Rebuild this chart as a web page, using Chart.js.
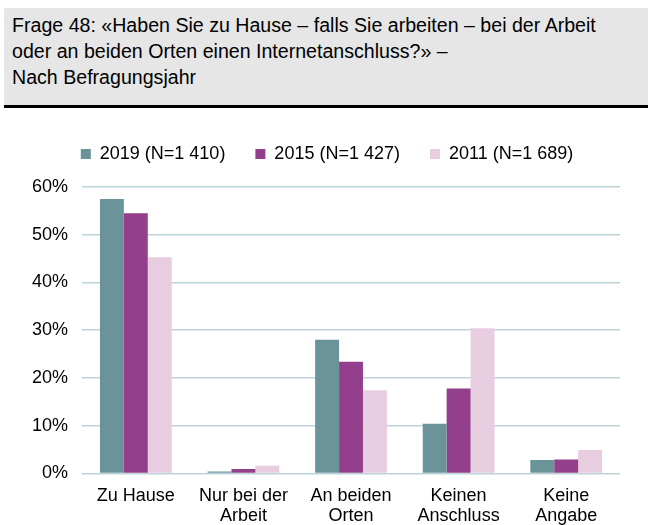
<!DOCTYPE html>
<html lang="de">
<head>
    <meta charset="UTF-8">
    <title>Frage 48</title>
    <script src="https://cdn.jsdelivr.net/npm/chart.js"></script>
    <style>
        body { margin: 0; width: 648px; height: 525px; background: #fff; font-family: "Liberation Sans", Arial, sans-serif; overflow: hidden; position: relative; }
        #header { position: absolute; left: 4px; top: 8px; right: 0; height: 97px; background: #e6e6e6; border-bottom: 3px solid #000; }
        #header p { margin: 0; padding: 4px 0 0 8px; font-size: 19.6px; line-height: 26px; color: #000; }
        #wrap { position: absolute; left: 0; top: 115px; width: 648px; height: 416px; }
    </style>
</head>
<body>
    <div id="header">
        <p>Frage 48: «Haben Sie zu Hause – falls Sie arbeiten – bei der Arbeit<br>oder an beiden Orten einen Internetanschluss?» –<br>Nach Befragungsjahr</p>
    </div>
    <div id="wrap"><canvas id="chart"></canvas></div>

    <script>
        const categories = [
            'Zu Hause',
            ['Nur bei der', 'Arbeit'],
            ['An beiden', 'Orten'],
            ['Keinen', 'Anschluss'],
            ['Keine', 'Angabe']
        ];
        const seriesNames = ['2019 (N=1 410)', '2015 (N=1 427)', '2011 (N=1 689)'];
        const values2019 = [57.5, 0.4, 28.0, 10.4, 2.8];
        const values2015 = [54.5, 0.9, 23.4, 17.8, 2.9];
        const values2011 = [45.3, 1.6, 17.4, 30.4, 4.9];
        const colors = ['#6b939a', '#933f8b', '#e8cde1'];

        // extra room under the legend, and nudge it a bit to the right
        const legendTweak = {
            id: 'legendTweak',
            beforeInit(chart) {
                const origFit = chart.legend.fit;
                chart.legend.fit = function () {
                    origFit.bind(chart.legend)();
                    this.height += 14;
                };
            },
            beforeDraw(chart) {
                chart.legend.left = 3;
                chart.legend.right = chart.width + 3;
            }
        };

        const ctx = document.getElementById('chart').getContext('2d');
        new Chart(ctx, {
            type: 'bar',
            data: {
                labels: categories,
                datasets: [values2019, values2015, values2011].map((vals, i) => ({
                    label: seriesNames[i],
                    data: vals,
                    backgroundColor: colors[i],
                    borderWidth: 0,
                    categoryPercentage: 0.667,
                    barPercentage: 1
                }))
            },
            options: {
                responsive: true,
                maintainAspectRatio: false,
                animation: false,
                layout: { padding: { left: 18, right: 28, top: 0, bottom: 0 } },
                plugins: {
                    tooltip: { enabled: false },
                    legend: {
                        position: 'top',
                        labels: {
                            boxWidth: 10,
                            boxHeight: 10,
                            padding: 30,
                            color: '#000',
                            font: { family: '"Liberation Sans", Arial, sans-serif', size: 18 }
                        }
                    }
                },
                scales: {
                    x: {
                        grid: { display: false },
                        border: { display: false },
                        ticks: {
                            color: '#000',
                            padding: 5,
                            maxRotation: 0,
                            font: { family: '"Liberation Sans", Arial, sans-serif', size: 18, lineHeight: 1.1 }
                        }
                    },
                    y: {
                        min: 0,
                        max: 60,
                        grid: { color: '#bcd3da', lineWidth: 1.5, drawTicks: false },
                        border: { display: false },
                        ticks: {
                            stepSize: 10,
                            color: '#000',
                            padding: 14,
                            font: { family: '"Liberation Sans", Arial, sans-serif', size: 18 },
                            callback: v => v + '%'
                        }
                    }
                }
            },
            plugins: [legendTweak]
        });
    </script>
</body>
</html>
